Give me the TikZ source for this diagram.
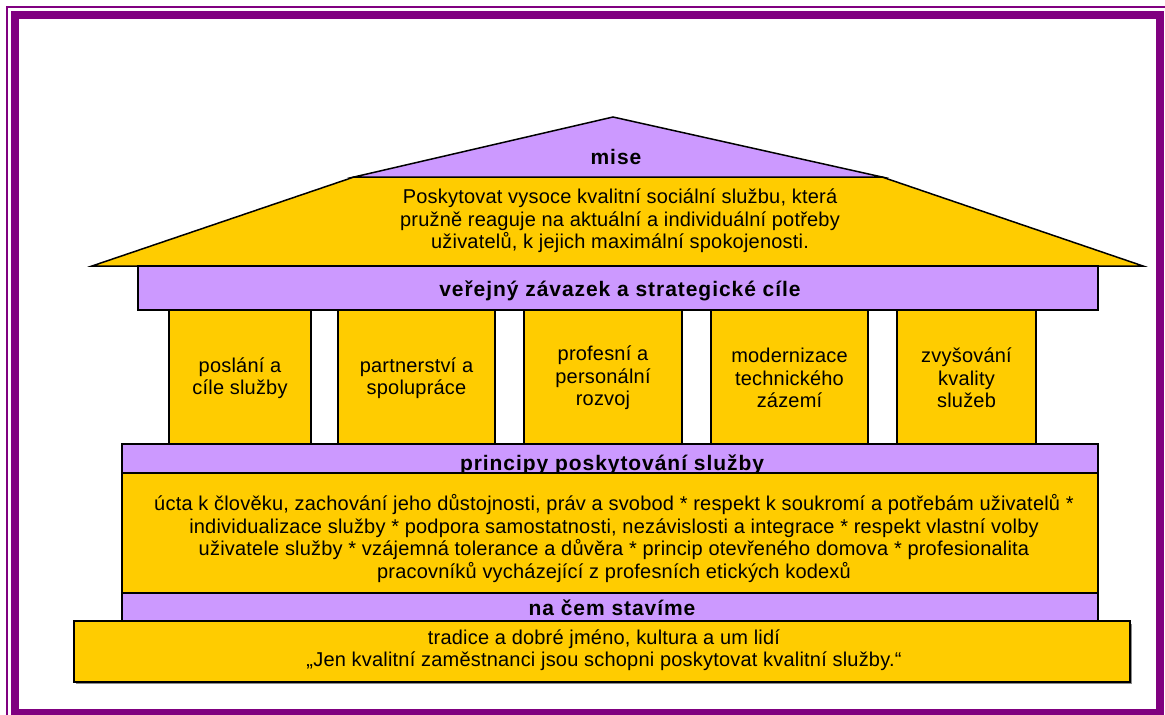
\documentclass[tikz,border=0pt]{standalone}
\usepackage{fontspec}
\setmainfont{Liberation Sans}
\definecolor{gold}{HTML}{FFCC00}
\definecolor{lilac}{HTML}{CC99FF}
\definecolor{framepurple}{HTML}{800080}
\begin{document}
\begin{tikzpicture}[x=1pt,y=-1pt, line width=1.5pt,
  txt/.style={font=\fontsize{20}{22.5}\selectfont\addfontfeature{LetterSpace=1}, align=center, inner sep=0pt},
  lbl/.style={font=\bfseries\fontsize{21}{22}\selectfont\addfontfeature{LetterSpace=4.5}, inner sep=0pt},
  goldbox/.style={draw=black, fill=gold, inner sep=0pt, line width=1.5pt},
  lilacbox/.style={draw=black, fill=lilac, inner sep=0pt, line width=1.5pt},
  colbox/.style={goldbox, minimum height=134pt},
]
\useasboundingbox (0,0) rectangle (1165,715);
\clip (0,0) rectangle (1165,715);
\fill[white] (0,0) rectangle (1165,715);
% frame
\draw[framepurple, line width=1.5pt] (7,7) rectangle (1175,725);
\draw[framepurple, line width=8pt] (15,15) rectangle (1160,713);
% roof
\coordinate (rl) at (92,266);
\coordinate (rr) at (1143,266);
\coordinate (bl) at (354,177);
\coordinate (br) at (882,177);
\coordinate (peak) at (613,117);
\draw[fill=gold] (rl) -- (bl) -- (br) -- (rr) -- cycle;
\draw[fill=lilac] (bl) -- (peak) -- (br) -- cycle;
\node[lbl] (mise) at (616,157) {mise};
\node[txt] (misetext) at (620,221) {Poskytovat vysoce kvalitní sociální službu, která\\pružně reaguje na aktuální a individuální potřeby\\uživatelů, k jejich maximální spokojenosti.};
% strategic bar
\node[lilacbox, minimum width=960pt, minimum height=44pt] (strat) at (618,288) {};
\node[lbl] (strattext) at (620,291) {veřejný závazek a strategické cíle};
% columns
\node[colbox, minimum width=142pt] (c1) at (240,377) {};
\node[colbox, minimum width=157pt] (c2) at (416.5,377) {};
\node[colbox, minimum width=158pt] (c3) at (603,377) {};
\node[colbox, minimum width=157pt] (c4) at (789.5,377) {};
\node[colbox, minimum width=139pt] (c5) at (966.5,377) {};
\node[txt] (t1) at (240,378) {poslání a\\cíle služby};
\node[txt] (t2) at (416.5,378) {partnerství a\\spolupráce};
\node[txt] (t3) at (603,378) {profesní a\\personální\\rozvoj};
\node[txt] (t4) at (789.5,378) {modernizace\\technického\\zázemí};
\node[txt] (t5) at (966.5,378) {zvyšování\\kvality\\služeb};
% principles
\node[lilacbox, minimum width=976pt, minimum height=29pt] (pbar) at (610,458.5) {};
\node[lbl, anchor=base] (ptext) at (612,470) {principy poskytování služby};
\node[goldbox, minimum width=976pt, minimum height=120pt] (pbox) at (610,533) {};
\node[txt] (pbody) at (614,538.5) {úcta k člověku, zachování jeho důstojnosti, práv a svobod * respekt k soukromí a potřebám uživatelů *\\individualizace služby * podpora samostatnosti, nezávislosti a integrace * respekt vlastní volby\\uživatele služby * vzájemná tolerance a důvěra * princip otevřeného domova * profesionalita\\pracovníků vycházející z profesních etických kodexů};
% foundation
\node[lilacbox, minimum width=976pt, minimum height=29pt] (fbar) at (610,607.5) {};
\node[lbl] (ftitle) at (612,608) {na čem stavíme};
\fill[black!45] (76,623.5) rectangle (1132,684);
\node[goldbox, minimum width=1056pt, minimum height=61pt] (fbox) at (602,651.5) {};
\node[txt] (fbody) at (604,650) {tradice a dobré jméno, kultura a um lidí\\„Jen kvalitní zaměstnanci jsou schopni poskytovat kvalitní služby.“};
\end{tikzpicture}
\end{document}
